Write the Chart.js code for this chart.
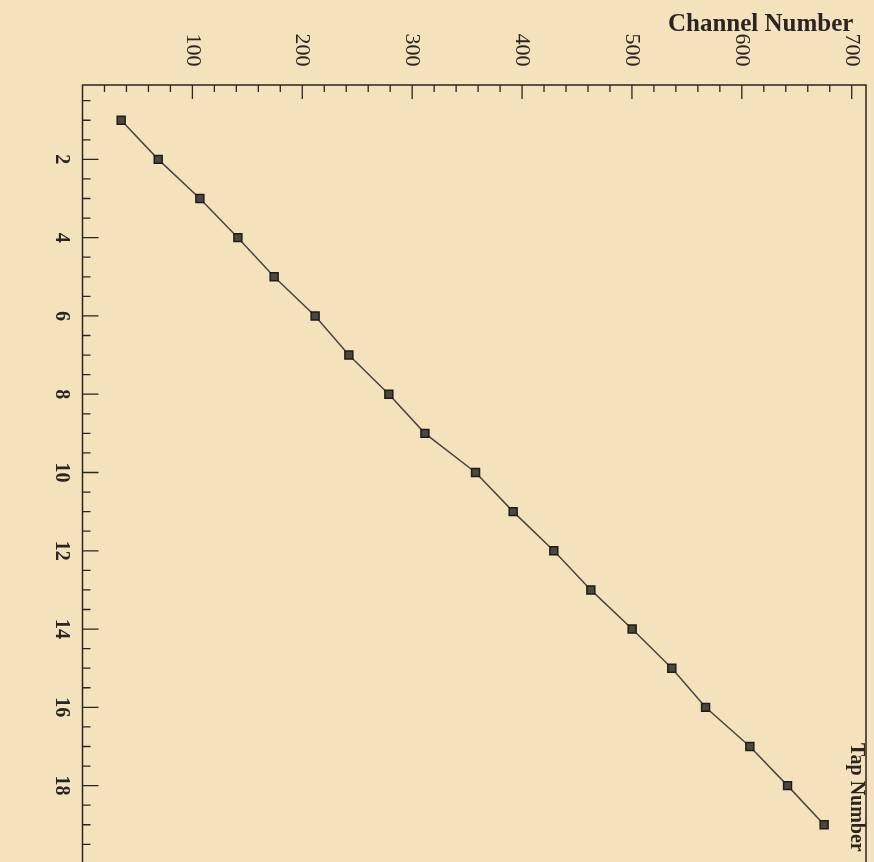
<!DOCTYPE html>
<html>
<head>
<meta charset="utf-8">
<script src="https://cdn.jsdelivr.net/npm/chart.js@4.4.1/dist/chart.umd.min.js"></script>
<style>
  html, body { margin: 0; padding: 0; background: #f3e2bc; }
  #wrap { width: 874px; height: 862px; position: relative; }
</style>
</head>
<body>
<div id="wrap"><canvas id="tapChart"></canvas></div>
<script>
// values
var tapNumbers = [1, 2, 3, 4, 5, 6, 7, 8, 9, 10, 11, 12, 13, 14, 15, 16, 17, 18, 19];
var channelNumbers = [35.2, 68.9, 106.8, 141.4, 174.4, 211.7, 242.4, 278.8, 311.6, 357.7,
  391.9, 428.9, 462.6, 500.2, 536.3, 567.0, 607.3, 641.6, 674.9];
var channelTicks = [100, 200, 300, 400, 500, 600, 700];
var tapTicks = [2, 4, 6, 8, 10, 12, 14, 16, 18];

var ink = '#2a2522';

// rotated page: labels read top to bottom
const rotText = (ctx, txt, x, y, font) => {
  ctx.save();
  ctx.translate(x, y);
  ctx.rotate(Math.PI / 2);
  ctx.font = font;
  ctx.textAlign = 'center';
  ctx.textBaseline = 'middle';
  ctx.fillText(txt, 0, 0);
  ctx.restore();
}

var framePlugin = {
  id: 'frame',
  beforeDatasetsDraw: (chart) => {
    var ctx = chart.ctx;
    var a = chart.chartArea;
    var sx = chart.scales.x;
    var sy = chart.scales.y;
    ctx.save();
    ctx.strokeStyle = ink;
    ctx.lineWidth = 1.5;
    ctx.beginPath();
    ctx.moveTo(a.left, chart.height);
    ctx.lineTo(a.left, a.top);
    ctx.lineTo(a.right, a.top);
    ctx.lineTo(a.right, chart.height);
    ctx.stroke();
    // top ticks (inward)
    ctx.lineWidth = 1.3;
    ctx.beginPath();
    for (var v = 20; v <= 700; v += 20) {
      var px = sx.getPixelForValue(v);
      var len = (v % 100 === 0) ? 14 : 7;
      ctx.moveTo(px, a.top);
      ctx.lineTo(px, a.top + len);
    }
    // left ticks (inward)
    for (var t = 0.5; t <= 19.5; t += 0.5) {
      var py = sy.getPixelForValue(t);
      var l2 = (t % 2 === 0) ? 16 : 8;
      ctx.moveTo(a.left, py);
      ctx.lineTo(a.left + l2, py);
    }
    ctx.stroke();
    ctx.restore();
  },
  afterDraw: (chart) => {
    var ctx = chart.ctx;
    var sx = chart.scales.x;
    var sy = chart.scales.y;
    ctx.save();
    ctx.fillStyle = ink;
    channelTicks.forEach((v) => {
      rotText(ctx, String(v), sx.getPixelForValue(v), 50, '22px "Liberation Serif"');
    });
    tapTicks.forEach((t) => {
      rotText(ctx, String(t), 61, sy.getPixelForValue(t), 'bold 20px "Liberation Serif"');
    });
    ctx.font = 'bold 25px "Liberation Serif"';
    ctx.textAlign = 'left';
    ctx.textBaseline = 'alphabetic';
    ctx.fillText('Channel Number', 668, 31);
    ctx.restore();
    ctx.save();
    ctx.fillStyle = ink;
    ctx.translate(856, 743);
    ctx.rotate(Math.PI / 2);
    ctx.font = 'bold 20px "Liberation Serif"';
    ctx.textAlign = 'left';
    ctx.textBaseline = 'middle';
    ctx.fillText('Tap Number', 0, 0);
    ctx.restore();
  }
}

var ctx = document.getElementById('tapChart').getContext('2d');
var tapChart = new Chart(ctx, {
  type: 'scatter',
  data: {
    datasets: [{
      label: 'Tap vs Channel',
      data: tapNumbers.map((t, i) => ({ x: channelNumbers[i], y: t })),
      showLine: true,
      borderColor: '#4a4440',
      borderWidth: 1.5,
      tension: 0,
      pointStyle: 'rect',
      pointRadius: 5.6,
      pointBackgroundColor: '#4d4742',
      pointBorderColor: '#1e1b18',
      pointBorderWidth: 1.5
    }]
  },
  options: {
    responsive: true,
    maintainAspectRatio: false,
    animation: false,
    layout: { padding: { left: 82.5, top: 85, right: 8, bottom: 0 } },
    plugins: {
      legend: { display: false },
      tooltip: { enabled: false }
    },
    scales: {
      x: { type: 'linear', display: false, min: 0, max: 713 },
      y: { type: 'linear', display: false, min: 0.1, max: 19.77, reverse: true }
    }
  },
  plugins: [framePlugin]
});
</script>
</body>
</html>
